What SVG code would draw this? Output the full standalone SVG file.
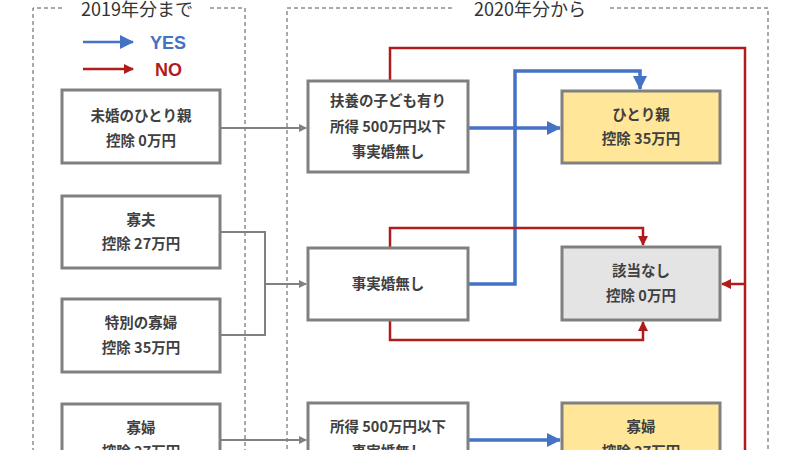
<svg xmlns="http://www.w3.org/2000/svg" width="800" height="450" viewBox="0 0 800 450">
<style>
.frame{fill:none;stroke:#555;stroke-width:1;stroke-dasharray:4 3}
.title{font-family:"Noto Sans CJK JP",sans-serif;font-size:18px;fill:#333;text-anchor:middle}
.box{fill:#fff;stroke:#808080;stroke-width:3}
.yel{fill:#ffe699}
.gry{fill:#e4e4e4}
.t{font-family:"Noto Sans CJK JP",sans-serif;font-size:14.5px;font-weight:bold;fill:#404040;text-anchor:middle}
.g{fill:none;stroke:#808080;stroke-width:2}
.b{fill:none;stroke:#4472c4;stroke-width:3.5}
.r{fill:none;stroke:#b01c1c;stroke-width:2.5}
</style>
<defs>
<marker id="ag" markerWidth="8" markerHeight="8" refX="7" refY="4" orient="auto" markerUnits="userSpaceOnUse" viewBox="0 0 8 8"><path d="M0,0L8,4L0,8z" fill="#808080"/></marker>
<marker id="ab" markerWidth="14" markerHeight="14" refX="13" refY="7" orient="auto" markerUnits="userSpaceOnUse" viewBox="0 0 14 14"><path d="M0,0L14,7L0,14z" fill="#4472c4"/></marker>
<marker id="ar" markerWidth="10" markerHeight="10" refX="9" refY="5" orient="auto" markerUnits="userSpaceOnUse" viewBox="0 0 10 10"><path d="M0,0L10,5L0,10z" fill="#b01c1c"/></marker>
</defs>
<path class="frame" d="M62,8H33V460M210,8H245V460"/>
<path class="frame" d="M452,8H287V460M610,8H768V460"/>
<text class="title" x="137" y="16">2019年分まで</text>
<text class="title" x="530" y="16">2020年分から</text>
<g id="legend">
<line x1="83" y1="42" x2="133" y2="42" stroke="#4472c4" stroke-width="2.5" marker-end="url(#ab)"/>
<text x="150" y="49" font-family="Liberation Sans,sans-serif" font-size="18" font-weight="bold" fill="#4472c4">YES</text>
<line x1="83" y1="69" x2="133" y2="69" stroke="#b01c1c" stroke-width="2.5" marker-end="url(#ar)"/>
<text x="155" y="76" font-family="Liberation Sans,sans-serif" font-size="18" font-weight="bold" fill="#b01c1c">NO</text>
</g>
<g id="connectors">
<line class="g" x1="220" y1="128" x2="306" y2="128" marker-end="url(#ag)"/>
<path class="g" d="M220,232H265V335H220M265,284H306" marker-end="url(#ag)"/>
<line class="g" x1="220" y1="440" x2="306" y2="440" marker-end="url(#ag)"/>
<line class="b" x1="468" y1="128" x2="560" y2="128" marker-end="url(#ab)"/>
<path class="b" d="M468,284H515V71H640V89" marker-end="url(#ab)"/>
<line class="b" x1="468" y1="440" x2="560" y2="440" marker-end="url(#ab)"/>
<path class="r" d="M390,81V48H745V455"/>
<line class="r" x1="745" y1="284" x2="722" y2="284" marker-end="url(#ar)"/>
<path class="r" d="M390,248V228H643V245" marker-end="url(#ar)"/>
<path class="r" d="M390,320V340H643V322" marker-end="url(#ar)"/>
</g>
<g id="n1"><rect class="box" x="62" y="90" width="158" height="73"/><text class="t" x="141" y="121">未婚のひとり親</text><text class="t" x="141" y="146">控除 0万円</text></g>
<g id="n2"><rect class="box" x="62" y="196" width="158" height="72"/><text class="t" x="141" y="225">寡夫</text><text class="t" x="141" y="249">控除 27万円</text></g>
<g id="n3"><rect class="box" x="62" y="299" width="158" height="73"/><text class="t" x="141" y="328">特別の寡婦</text><text class="t" x="141" y="353">控除 35万円</text></g>
<g id="n4"><rect class="box" x="62" y="404" width="158" height="72"/><text class="t" x="141" y="433">寡婦</text><text class="t" x="141" y="457">控除 27万円</text></g>
<g id="nA"><rect class="box" x="308" y="81" width="160" height="91"/><text class="t" x="388" y="106">扶養の子ども有り</text><text class="t" x="388" y="132">所得 500万円以下</text><text class="t" x="388" y="157">事実婚無し</text></g>
<g id="nB"><rect class="box" x="308" y="248" width="160" height="72"/><text class="t" x="388" y="289">事実婚無し</text></g>
<g id="nC"><rect class="box" x="308" y="403" width="160" height="72"/><text class="t" x="388" y="432">所得 500万円以下</text><text class="t" x="388" y="457">事実婚無し</text></g>
<g id="nR1"><rect class="box yel" x="562" y="91" width="158" height="72"/><text class="t" x="641" y="120">ひとり親</text><text class="t" x="641" y="144">控除 35万円</text></g>
<g id="nR2"><rect class="box gry" x="562" y="247" width="158" height="73"/><text class="t" x="641" y="276">該当なし</text><text class="t" x="641" y="301">控除 0万円</text></g>
<g id="nR3"><rect class="box yel" x="562" y="403" width="158" height="72"/><text class="t" x="641" y="432">寡婦</text><text class="t" x="641" y="457">控除 27万円</text></g>
</svg>
